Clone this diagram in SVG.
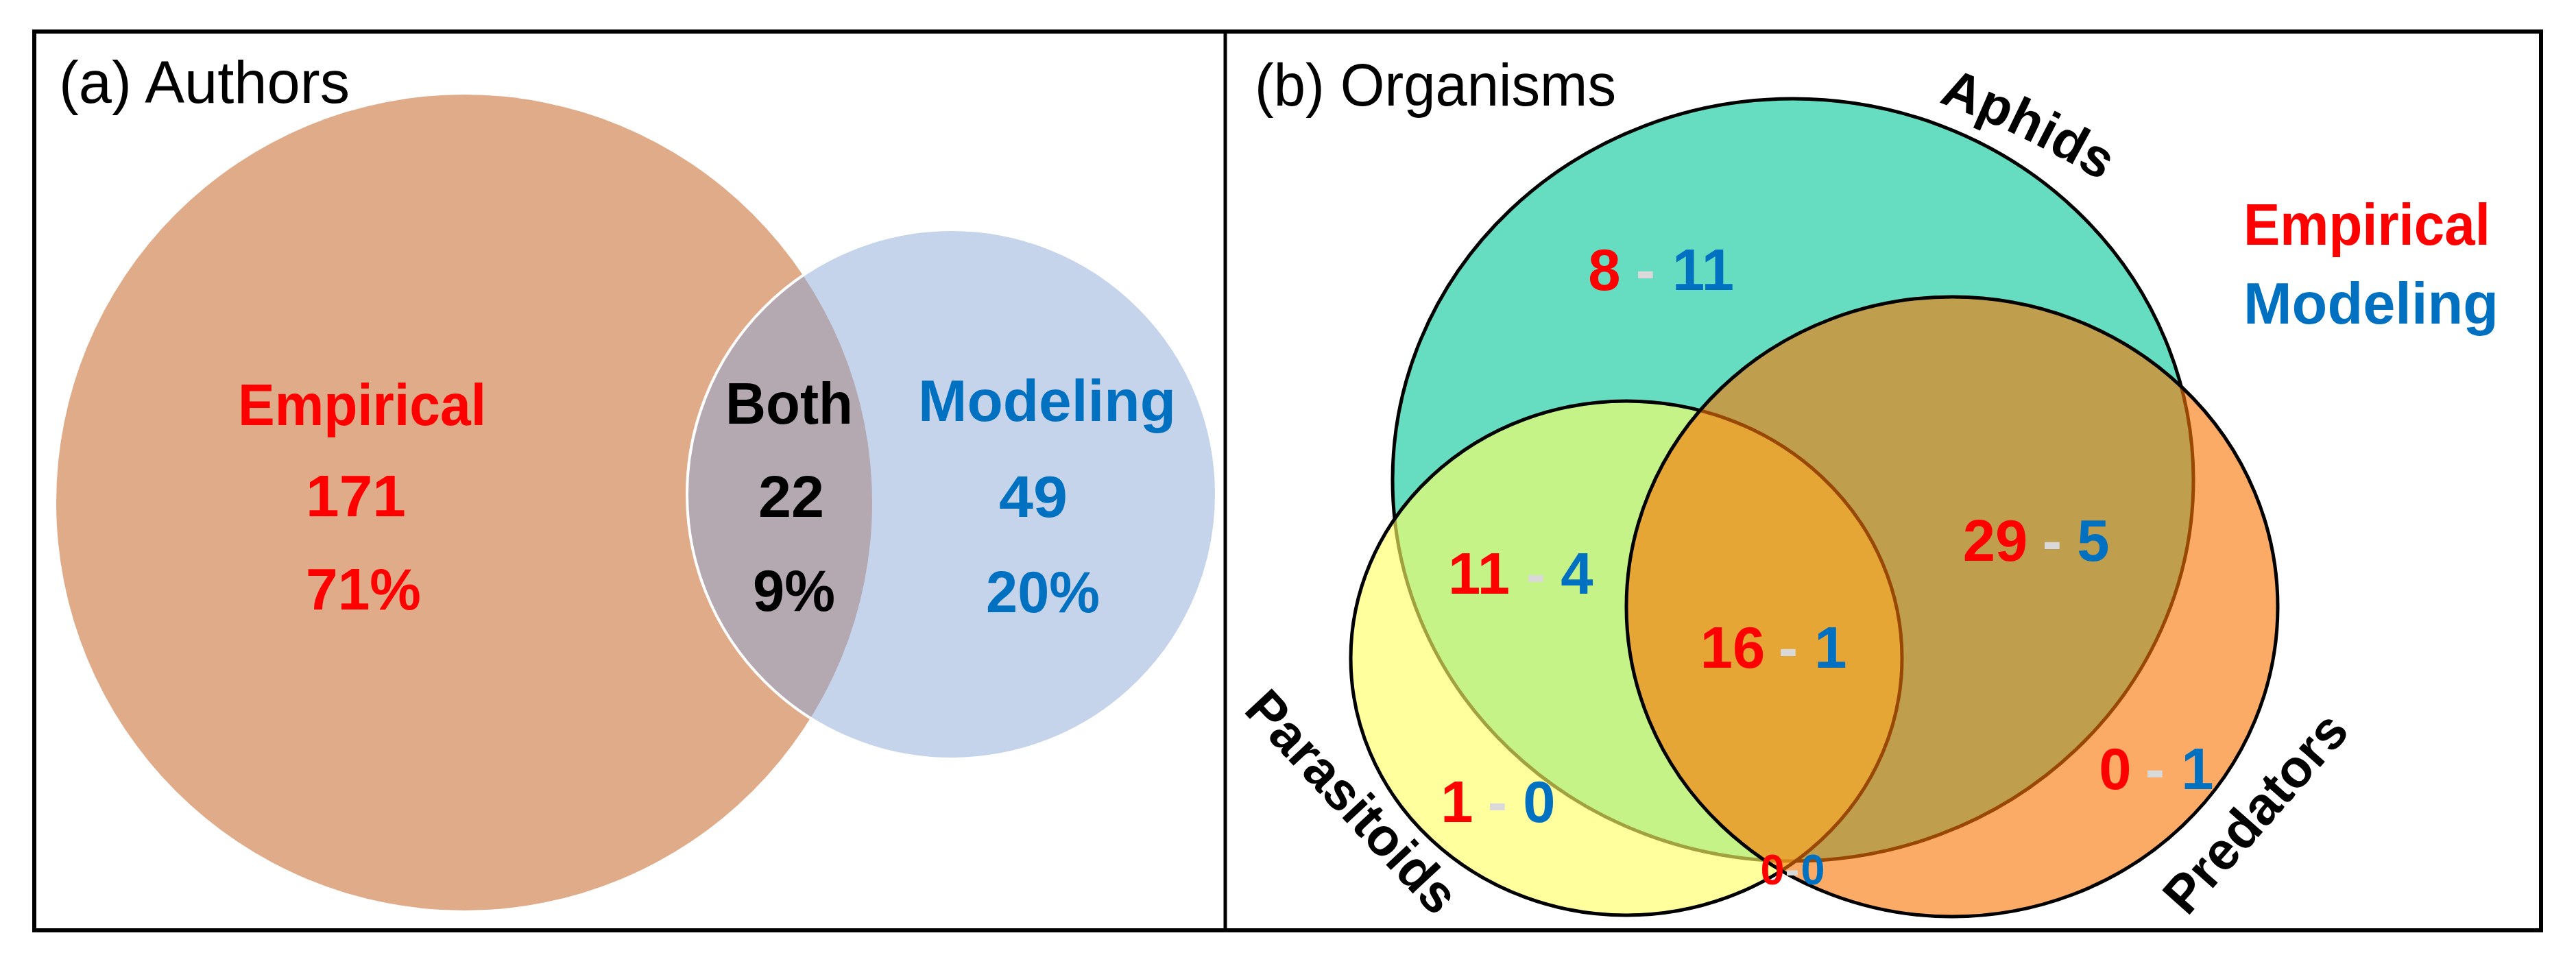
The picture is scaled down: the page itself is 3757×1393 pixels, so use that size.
<svg xmlns="http://www.w3.org/2000/svg" width="3757" height="1393" viewBox="0 0 3757 1393">
<style>
text{font-family:"Liberation Sans",Arial,sans-serif}
.t{font-size:87px;fill:#000}
.b{font-size:85px;font-weight:bold}
.s{font-size:78px;font-weight:bold;fill:#000}
.m{text-anchor:middle}
.r{fill:#FF0000}
.u{fill:#0070C0}
.k{fill:#000}
.d{fill:#D9D9D9}
.ol{stroke:#000;stroke-width:5}
</style>
<defs>
<clipPath id="blueClip"><circle cx="1388" cy="721" r="386"/></clipPath>
<path id="aphArc" d="M 2827 149 A 1300 1300 0 0 1 3301 452"/>
</defs>
<rect x="0" y="0" width="3757" height="1393" fill="#fff"/>

<g id="panel-a">
<g id="node-empirical">
<circle cx="677" cy="733" r="595" fill="#E0AB88"/>
</g>
<g id="node-modeling">
<circle cx="1388" cy="721" r="386" fill="#C5D4EB"/>
</g>
<g id="node-both">
<circle cx="677" cy="733" r="595" fill="#B4A8B1" clip-path="url(#blueClip)"/>
<circle cx="1388" cy="721" r="386" fill="none" stroke="#fff" stroke-width="4"/>
</g>
<text class="t" x="86" y="150" textLength="424" lengthAdjust="spacingAndGlyphs">(a) Authors</text>
<text class="b r m" x="528" y="620" textLength="362" lengthAdjust="spacingAndGlyphs">Empirical</text>
<text class="b r m" x="519" y="753" textLength="146" lengthAdjust="spacingAndGlyphs">171</text>
<text class="b r m" x="530" y="889" textLength="168" lengthAdjust="spacingAndGlyphs">71%</text>
<text class="b k m" x="1151" y="618" textLength="186" lengthAdjust="spacingAndGlyphs">Both</text>
<text class="b k m" x="1154" y="754" textLength="96" lengthAdjust="spacingAndGlyphs">22</text>
<text class="b k m" x="1158" y="891" textLength="120" lengthAdjust="spacingAndGlyphs">9%</text>
<text class="b u m" x="1527" y="614" textLength="376" lengthAdjust="spacingAndGlyphs">Modeling</text>
<text class="b u m" x="1507" y="754" textLength="100" lengthAdjust="spacingAndGlyphs">49</text>
<text class="b u m" x="1521" y="893" textLength="166" lengthAdjust="spacingAndGlyphs">20%</text>
</g>

<g id="panel-b">
<g id="node-aphids">
<ellipse cx="2615" cy="700" rx="584" ry="556" fill="#66DDC0" class="ol"/>
<text class="s"><textPath href="#aphArc">Aphids</textPath></text>
</g>
<g id="node-parasitoids">
<ellipse cx="2372" cy="960" rx="402" ry="375" fill="#FFFF66" fill-opacity="0.63" class="ol"/>
<text class="s" x="1812" y="1037" transform="rotate(47 1812 1037)" textLength="412" lengthAdjust="spacingAndGlyphs">Parasitoids</text>
</g>
<g id="node-predators">
<ellipse cx="2847" cy="885" rx="475" ry="452" fill="#F97504" fill-opacity="0.61" class="ol"/>
<text class="s" x="3190" y="1338" transform="rotate(-48.5 3190 1338)" textLength="360" lengthAdjust="spacingAndGlyphs">Predators</text>
</g>
<text class="t" x="1830" y="154" textLength="527" lengthAdjust="spacingAndGlyphs">(b) Organisms</text>
<g id="legend">
<text class="b r" x="3272" y="357" textLength="360" lengthAdjust="spacingAndGlyphs">Empirical</text>
<text class="b u" x="3272" y="472" textLength="372" lengthAdjust="spacingAndGlyphs">Modeling</text>
</g>
<g id="counts" class="b m">
<text y="423"><tspan class="r" x="2340">8</tspan><tspan class="d" x="2400">-</tspan><tspan class="u" x="2484">11</tspan></text>
<text y="866"><tspan class="r" x="2157">11</tspan><tspan class="d" x="2240">-</tspan><tspan class="u" x="2300">4</tspan></text>
<text y="974"><tspan class="r" x="2527">16</tspan><tspan class="d" x="2608">-</tspan><tspan class="u" x="2670">1</tspan></text>
<text y="818"><tspan class="r" x="2910">29</tspan><tspan class="d" x="2993">-</tspan><tspan class="u" x="3053">5</tspan></text>
<text y="1199"><tspan class="r" x="2125">1</tspan><tspan class="d" x="2184">-</tspan><tspan class="u" x="2245">0</tspan></text>
<text y="1151"><tspan class="r" x="3085">0</tspan><tspan class="d" x="3143">-</tspan><tspan class="u" x="3205">1</tspan></text>
<text y="1290" style="font-size:63px"><tspan class="r" x="2585">0</tspan><tspan class="d" x="2614">-</tspan><tspan class="u" x="2644">0</tspan></text>
</g>
</g>

<g id="frame" fill="none" stroke="#000">
<rect x="50" y="46" width="3656" height="1311" stroke-width="6"/>
<line x1="1787" y1="46" x2="1787" y2="1357" stroke-width="5"/>
</g>
</svg>
